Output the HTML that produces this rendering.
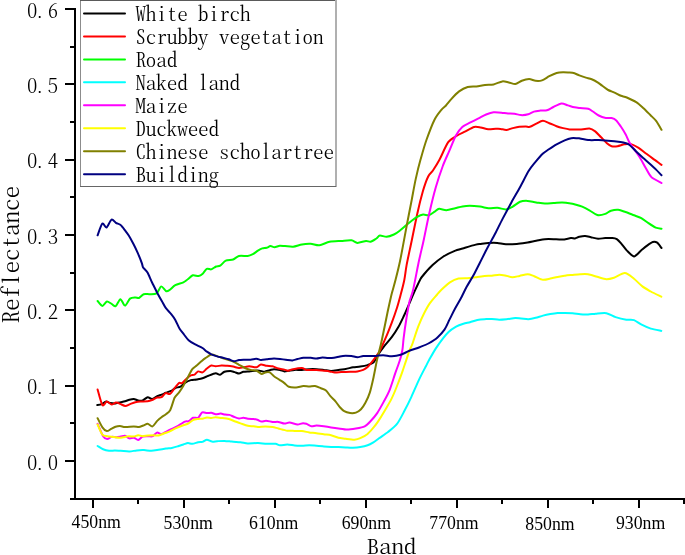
<!DOCTYPE html>
<html><head><meta charset="utf-8"><title>Reflectance spectra</title>
<style>html,body{margin:0;padding:0;background:#fff;}body{width:685px;height:555px;overflow:hidden;}svg{display:block;}</style>
</head><body>
<svg width="685" height="555" viewBox="0 0 685 555">
<rect width="685" height="555" fill="#fff"/>
<g shape-rendering="crispEdges">
<rect x="80" y="0" width="1" height="187" fill="#8c8c8c"/>
<rect x="80" y="0" width="256" height="1" fill="#5a5a5a"/>
<rect x="335" y="0" width="2" height="187" fill="#b0b0b0"/>
<rect x="80" y="186" width="256" height="1" fill="#666666"/>
</g>
<line x1="84" y1="13.50" x2="125" y2="13.50" stroke="#000000" stroke-width="2" stroke-linecap="round"/>
<line x1="84" y1="36.45" x2="125" y2="36.45" stroke="#ff0000" stroke-width="2" stroke-linecap="round"/>
<line x1="84" y1="59.40" x2="125" y2="59.40" stroke="#00ff00" stroke-width="2" stroke-linecap="round"/>
<line x1="84" y1="82.35" x2="125" y2="82.35" stroke="#00ffff" stroke-width="2" stroke-linecap="round"/>
<line x1="84" y1="105.30" x2="125" y2="105.30" stroke="#ff00ff" stroke-width="2" stroke-linecap="round"/>
<line x1="84" y1="128.25" x2="125" y2="128.25" stroke="#ffff00" stroke-width="2" stroke-linecap="round"/>
<line x1="84" y1="151.20" x2="125" y2="151.20" stroke="#808000" stroke-width="2" stroke-linecap="round"/>
<line x1="84" y1="174.15" x2="125" y2="174.15" stroke="#000080" stroke-width="2" stroke-linecap="round"/>
<g font-family="'Liberation Serif', 'Noto Serif CJK SC', serif" font-size="21.2" fill="#000"><text transform="translate(135.40,20.90) scale(1,0.92)" x="0" y="0" font-family="'Noto Serif CJK SC', 'Liberation Serif', serif" font-size="20.90" font-weight="300" style="font-feature-settings:'hwid' 1, 'liga' 0;font-variant-ligatures:none" textLength="114.95" lengthAdjust="spacing">White birch</text>
<text transform="translate(135.40,43.85) scale(1,0.92)" x="0" y="0" font-family="'Noto Serif CJK SC', 'Liberation Serif', serif" font-size="20.90" font-weight="300" style="font-feature-settings:'hwid' 1, 'liga' 0;font-variant-ligatures:none" textLength="188.10" lengthAdjust="spacing">Scrubby vegetation</text>
<text transform="translate(135.40,66.80) scale(1,0.92)" x="0" y="0" font-family="'Noto Serif CJK SC', 'Liberation Serif', serif" font-size="20.90" font-weight="300" style="font-feature-settings:'hwid' 1, 'liga' 0;font-variant-ligatures:none" textLength="41.80" lengthAdjust="spacing">Road</text>
<text transform="translate(135.40,89.75) scale(1,0.92)" x="0" y="0" font-family="'Noto Serif CJK SC', 'Liberation Serif', serif" font-size="20.90" font-weight="300" style="font-feature-settings:'hwid' 1, 'liga' 0;font-variant-ligatures:none" textLength="104.50" lengthAdjust="spacing">Naked land</text>
<text transform="translate(135.40,112.70) scale(1,0.92)" x="0" y="0" font-family="'Noto Serif CJK SC', 'Liberation Serif', serif" font-size="20.90" font-weight="300" style="font-feature-settings:'hwid' 1, 'liga' 0;font-variant-ligatures:none" textLength="52.25" lengthAdjust="spacing">Maize</text>
<text transform="translate(135.40,135.65) scale(1,0.92)" x="0" y="0" font-family="'Noto Serif CJK SC', 'Liberation Serif', serif" font-size="20.90" font-weight="300" style="font-feature-settings:'hwid' 1, 'liga' 0;font-variant-ligatures:none" textLength="83.60" lengthAdjust="spacing">Duckweed</text>
<text transform="translate(135.40,158.60) scale(1,0.92)" x="0" y="0" font-family="'Noto Serif CJK SC', 'Liberation Serif', serif" font-size="20.90" font-weight="300" style="font-feature-settings:'hwid' 1, 'liga' 0;font-variant-ligatures:none" textLength="198.55" lengthAdjust="spacing">Chinese scholartree</text>
<text transform="translate(135.40,181.55) scale(1,0.92)" x="0" y="0" font-family="'Noto Serif CJK SC', 'Liberation Serif', serif" font-size="20.90" font-weight="300" style="font-feature-settings:'hwid' 1, 'liga' 0;font-variant-ligatures:none" textLength="83.60" lengthAdjust="spacing">Building</text></g>
<g fill="#000" shape-rendering="crispEdges">
<rect x="74" y="8" width="2" height="492"/>
<rect x="70" y="498" width="615" height="2"/>
<rect x="70" y="497.67" width="5" height="2"/>
<rect x="65" y="460.00" width="10" height="2"/>
<rect x="70" y="422.33" width="5" height="2"/>
<rect x="65" y="384.67" width="10" height="2"/>
<rect x="70" y="347.00" width="5" height="2"/>
<rect x="65" y="309.34" width="10" height="2"/>
<rect x="70" y="271.68" width="5" height="2"/>
<rect x="65" y="234.01" width="10" height="2"/>
<rect x="70" y="196.34" width="5" height="2"/>
<rect x="65" y="158.68" width="10" height="2"/>
<rect x="70" y="121.01" width="5" height="2"/>
<rect x="65" y="83.35" width="10" height="2"/>
<rect x="70" y="45.69" width="5" height="2"/>
<rect x="65" y="8.02" width="10" height="2"/>
<rect x="92.00" y="499" width="2" height="9"/>
<rect x="137.48" y="499" width="2" height="5"/>
<rect x="182.95" y="499" width="2" height="9"/>
<rect x="228.43" y="499" width="2" height="5"/>
<rect x="273.90" y="499" width="2" height="9"/>
<rect x="319.38" y="499" width="2" height="5"/>
<rect x="364.86" y="499" width="2" height="9"/>
<rect x="410.33" y="499" width="2" height="5"/>
<rect x="455.81" y="499" width="2" height="9"/>
<rect x="501.28" y="499" width="2" height="5"/>
<rect x="546.76" y="499" width="2" height="9"/>
<rect x="592.24" y="499" width="2" height="5"/>
<rect x="637.71" y="499" width="2" height="9"/>
<rect x="683.19" y="499" width="2" height="5"/>
</g>
<g font-family="'Liberation Serif', 'Noto Serif CJK SC', serif" font-size="22.6" fill="#000"><text transform="translate(27.00,469.50) scale(1,0.95)" x="0" y="0" dx="0 -3 3" font-family="'Noto Serif CJK SC', 'Liberation Serif', serif" font-size="20.80" font-weight="300" style="font-feature-settings:'hwid' 1, 'liga' 0;font-variant-ligatures:none" textLength="31.20" lengthAdjust="spacing">0.0</text>
<text transform="translate(27.00,394.17) scale(1,0.95)" x="0" y="0" dx="0 -3 3" font-family="'Noto Serif CJK SC', 'Liberation Serif', serif" font-size="20.80" font-weight="300" style="font-feature-settings:'hwid' 1, 'liga' 0;font-variant-ligatures:none" textLength="31.20" lengthAdjust="spacing">0.1</text>
<text transform="translate(27.00,318.84) scale(1,0.95)" x="0" y="0" dx="0 -3 3" font-family="'Noto Serif CJK SC', 'Liberation Serif', serif" font-size="20.80" font-weight="300" style="font-feature-settings:'hwid' 1, 'liga' 0;font-variant-ligatures:none" textLength="31.20" lengthAdjust="spacing">0.2</text>
<text transform="translate(27.00,243.51) scale(1,0.95)" x="0" y="0" dx="0 -3 3" font-family="'Noto Serif CJK SC', 'Liberation Serif', serif" font-size="20.80" font-weight="300" style="font-feature-settings:'hwid' 1, 'liga' 0;font-variant-ligatures:none" textLength="31.20" lengthAdjust="spacing">0.3</text>
<text transform="translate(27.00,168.18) scale(1,0.95)" x="0" y="0" dx="0 -3 3" font-family="'Noto Serif CJK SC', 'Liberation Serif', serif" font-size="20.80" font-weight="300" style="font-feature-settings:'hwid' 1, 'liga' 0;font-variant-ligatures:none" textLength="31.20" lengthAdjust="spacing">0.4</text>
<text transform="translate(27.00,92.85) scale(1,0.95)" x="0" y="0" dx="0 -3 3" font-family="'Noto Serif CJK SC', 'Liberation Serif', serif" font-size="20.80" font-weight="300" style="font-feature-settings:'hwid' 1, 'liga' 0;font-variant-ligatures:none" textLength="31.20" lengthAdjust="spacing">0.5</text>
<text transform="translate(27.00,17.52) scale(1,0.95)" x="0" y="0" dx="0 -3 3" font-family="'Noto Serif CJK SC', 'Liberation Serif', serif" font-size="20.80" font-weight="300" style="font-feature-settings:'hwid' 1, 'liga' 0;font-variant-ligatures:none" textLength="31.20" lengthAdjust="spacing">0.6</text></g>
<g font-family="'Liberation Serif', 'Noto Serif CJK SC', serif" font-size="18.6" fill="#000"><text transform="translate(96.2,528.2) scale(0.955,1)" text-anchor="middle">450nm</text>
<text transform="translate(188.2,528.5) scale(0.955,1)" text-anchor="middle">530nm</text>
<text transform="translate(273.7,528.9) scale(0.955,1)" text-anchor="middle">610nm</text>
<text transform="translate(366.3,528.7) scale(0.955,1)" text-anchor="middle">690nm</text>
<text transform="translate(454.0,529.2) scale(0.955,1)" text-anchor="middle">770nm</text>
<text transform="translate(550.0,529.5) scale(0.955,1)" text-anchor="middle">850nm</text>
<text transform="translate(640.6,528.9) scale(0.955,1)" text-anchor="middle">930nm</text></g>
<g font-family="'Liberation Serif', 'Noto Serif CJK SC', serif" font-size="25" fill="#000"><text transform="translate(366.60,553.80) scale(1,0.82)" x="0" y="0" font-family="'Noto Serif CJK SC', 'Liberation Serif', serif" font-size="24.80" font-weight="300" style="font-feature-settings:'hwid' 1, 'liga' 0;font-variant-ligatures:none" textLength="49.60" lengthAdjust="spacing">Band</text></g>
<g font-family="'Liberation Serif', 'Noto Serif CJK SC', serif" font-size="25" fill="#000" transform="translate(18.8,323.4) rotate(-90)"><text transform="translate(0.00,0.00) scale(1,0.87)" x="0" y="0" font-family="'Noto Serif CJK SC', 'Liberation Serif', serif" font-size="25.00" font-weight="300" style="font-feature-settings:'hwid' 1, 'liga' 0;font-variant-ligatures:none" textLength="137.50" lengthAdjust="spacing">Reflectance</text></g>
<path d="M97.3,405.1C97.9,405.0 100.5,404.6 101.7,404.1C102.9,403.6 104.9,401.7 106.1,401.6C107.3,401.5 109.1,402.9 110.4,403.1C111.7,403.3 114.1,403.5 115.5,403.4C116.9,403.3 119.4,402.5 120.7,402.2C122.0,401.9 123.8,401.5 125.0,401.2C126.2,400.9 128.2,400.0 129.4,399.7C130.6,399.4 132.6,398.9 133.8,399.0C135.0,399.1 137.0,400.2 138.2,400.4C139.4,400.6 141.3,400.8 142.6,400.4C143.9,400.0 146.4,397.4 147.7,397.2C149.0,397.0 150.7,399.1 152.0,399.0C153.3,398.9 155.9,396.7 157.2,396.1C158.5,395.5 160.3,395.0 161.5,394.6C162.7,394.2 164.6,393.3 165.9,392.8C167.2,392.3 169.7,391.5 171.0,390.9C172.3,390.3 174.1,388.6 175.4,388.0C176.7,387.4 179.2,387.3 180.5,386.6C181.8,385.9 183.5,383.8 184.9,382.9C186.3,382.0 189.2,380.6 190.8,380.1C192.4,379.6 195.1,379.7 196.7,379.4C198.3,379.1 200.9,378.7 202.5,378.2C204.1,377.7 206.6,376.5 208.4,375.8C210.2,375.1 214.2,373.4 215.7,373.3C217.2,373.2 218.8,374.9 220.0,374.7C221.2,374.5 223.0,372.3 224.4,371.8C225.8,371.3 228.9,371.1 230.3,371.1C231.7,371.1 233.4,371.8 234.6,372.1C235.8,372.4 237.8,373.6 239.0,373.6C240.2,373.6 242.0,372.1 243.4,371.8C244.8,371.5 247.6,371.5 249.2,371.4C250.8,371.3 253.7,370.8 255.1,370.7C256.5,370.6 258.2,370.6 259.5,370.7C260.8,370.8 263.2,371.8 264.6,371.7C266.0,371.6 268.4,370.5 269.7,370.2C271.0,369.9 272.6,369.2 274.0,369.2C275.4,369.2 278.5,369.6 279.9,369.9C281.3,370.2 283.2,371.3 284.4,371.4C285.6,371.5 287.4,370.9 288.8,370.7C290.2,370.5 292.9,370.0 294.6,369.9C296.3,369.8 300.0,370.0 301.9,369.9C303.8,369.8 307.3,369.3 309.2,369.2C311.1,369.1 314.6,369.1 316.5,369.2C318.4,369.3 321.9,369.7 323.8,369.9C325.7,370.1 329.2,370.9 331.1,370.9C333.0,370.9 336.5,370.2 338.4,369.9C340.3,369.6 343.8,369.2 345.7,368.9C347.6,368.6 351.1,367.6 353.0,367.3C354.9,367.0 358.4,366.9 360.3,366.6C362.2,366.3 365.9,365.6 367.6,365.1C369.3,364.6 372.1,363.8 373.4,362.6C374.7,361.4 375.8,358.2 377.3,355.9C378.8,353.6 382.7,348.2 384.6,345.7C386.5,343.2 390.0,339.4 391.9,336.9C393.8,334.4 396.8,329.6 398.5,326.7C400.2,323.8 402.8,318.1 404.3,315.0C405.8,311.9 408.1,306.3 409.4,303.4C410.7,300.5 412.4,296.1 413.8,293.1C415.2,290.1 418.5,282.8 419.6,280.7C420.7,278.6 420.1,279.1 421.8,277.0C423.5,274.9 429.7,267.8 432.6,265.1C435.5,262.4 440.5,258.4 443.4,256.5C446.3,254.6 451.3,252.3 454.2,251.1C457.1,249.9 462.1,248.7 465.0,247.8C467.9,246.9 473.8,245.1 475.8,244.6C477.8,244.1 478.3,244.1 480.0,243.9C481.7,243.7 486.3,243.0 488.6,242.9C490.9,242.8 495.0,242.7 497.3,242.9C499.6,243.1 503.3,244.1 505.9,244.2C508.5,244.3 513.9,244.1 516.8,243.9C519.7,243.7 525.0,242.8 527.6,242.4C530.2,242.0 533.9,241.1 536.2,240.7C538.5,240.3 542.6,239.4 544.9,239.2C547.2,239.0 551.2,239.1 553.5,239.2C555.8,239.3 559.9,239.7 562.2,239.6C564.5,239.5 569.1,238.3 570.8,238.1C572.5,237.9 573.9,238.6 575.0,238.4C576.1,238.2 578.0,237.0 579.3,236.7C580.6,236.4 583.6,235.8 585.1,235.9C586.6,236.0 589.2,236.8 590.9,237.2C592.6,237.6 596.2,238.7 598.1,238.8C600.0,238.9 603.4,238.1 605.3,238.0C607.2,237.9 611.0,237.9 612.5,238.0C614.0,238.1 615.7,238.4 616.8,239.1C617.9,239.8 619.8,241.9 621.1,243.4C622.4,244.9 625.2,248.9 626.9,250.6C628.6,252.3 632.2,256.4 634.1,256.4C636.0,256.4 639.6,251.7 641.3,250.3C643.0,248.9 645.6,246.7 647.1,245.6C648.6,244.5 651.5,242.4 652.8,242.0C654.1,241.6 656.0,241.9 657.2,242.7C658.4,243.5 660.9,247.3 661.5,248.0" fill="none" stroke="#000000" stroke-width="2" stroke-linejoin="round" stroke-linecap="round"/>
<path d="M97.6,389.5C98.2,391.6 101.2,403.5 102.4,405.1C103.6,406.7 105.6,401.7 106.8,401.6C108.0,401.5 110.4,404.4 111.6,404.5C112.8,404.6 114.8,402.7 116.0,402.6C117.2,402.5 119.5,403.6 120.7,404.1C121.9,404.6 124.0,406.0 125.3,406.0C126.6,406.0 128.8,404.6 130.1,404.1C131.4,403.6 133.9,402.5 135.3,402.2C136.7,401.9 138.7,401.6 140.4,401.5C142.1,401.4 146.0,401.4 147.7,401.2C149.4,401.0 151.5,400.2 152.8,399.7C154.1,399.2 156.0,397.8 157.2,397.5C158.4,397.2 160.4,397.8 161.5,397.2C162.6,396.6 164.5,393.5 165.6,393.1C166.7,392.7 168.8,394.6 170.0,393.9C171.2,393.2 173.5,389.5 174.7,388.0C175.9,386.5 178.3,383.5 179.3,382.9C180.3,382.3 181.0,383.8 182.0,383.2C183.0,382.6 185.3,379.8 186.5,378.7C187.7,377.6 189.7,375.8 190.8,375.3C191.9,374.8 193.5,375.2 194.5,374.7C195.5,374.2 197.0,371.7 198.1,371.4C199.2,371.1 201.3,372.8 202.5,372.4C203.7,372.0 205.7,369.4 206.9,368.5C208.1,367.6 210.1,365.8 211.3,365.5C212.5,365.2 214.3,366.3 215.7,366.3C217.1,366.3 220.0,365.6 221.5,365.5C223.0,365.4 225.7,365.7 227.3,365.8C228.9,365.9 231.6,366.3 233.2,366.6C234.8,366.9 237.4,367.9 239.0,368.0C240.6,368.1 243.5,367.2 244.9,367.0C246.3,366.8 247.7,366.3 249.2,366.3C250.7,366.3 254.9,367.5 256.5,367.3C258.1,367.1 259.5,364.7 260.9,364.5C262.3,364.3 265.2,365.6 266.8,365.8C268.4,366.0 271.1,365.9 272.6,366.3C274.1,366.7 276.8,368.1 278.4,368.5C280.0,368.9 283.1,369.3 284.4,369.6C285.7,369.9 286.8,370.8 288.0,370.7C289.2,370.6 291.2,369.6 293.1,369.2C295.0,368.8 300.1,367.9 301.9,368.0C303.7,368.1 304.4,369.6 306.3,369.9C308.2,370.2 314.2,369.8 316.5,369.9C318.8,370.0 322.1,370.5 323.8,370.7C325.5,370.9 328.1,371.2 329.6,371.4C331.1,371.6 333.1,372.3 334.7,372.4C336.3,372.5 339.2,372.2 341.3,372.1C343.4,372.0 348.0,371.9 350.1,371.8C352.2,371.7 355.7,371.7 357.4,371.4C359.1,371.1 361.8,370.5 363.2,369.9C364.6,369.3 366.4,368.1 367.6,367.0C368.8,365.9 370.8,363.4 372.0,361.9C373.2,360.4 375.3,357.7 376.4,356.1C377.5,354.5 378.9,352.7 380.2,350.1C381.5,347.5 384.5,340.6 386.1,336.9C387.7,333.2 390.4,326.2 391.9,322.3C393.4,318.4 395.8,311.4 397.0,307.7C398.2,304.0 399.7,298.3 400.7,294.6C401.7,290.9 403.5,283.9 404.3,280.0C405.1,276.1 405.6,270.5 406.6,265.1C407.6,259.7 410.6,246.1 412.0,239.2C413.4,232.3 416.0,219.5 417.4,213.2C418.8,206.9 421.4,196.5 422.8,191.6C424.2,186.7 426.8,179.3 428.2,176.5C429.6,173.7 431.6,172.6 433.1,170.3C434.6,168.0 437.6,163.2 439.6,159.5C441.6,155.8 445.9,145.4 448.2,142.2C450.5,139.0 454.6,137.1 456.9,135.7C459.2,134.3 463.2,132.6 465.5,131.4C467.8,130.2 472.2,127.5 474.2,127.0C476.2,126.5 478.8,127.2 480.7,127.5C482.6,127.8 486.2,129.0 488.2,129.2C490.2,129.4 494.1,128.8 495.8,128.8C497.5,128.8 499.3,128.7 500.7,128.9C502.1,129.1 504.8,130.1 506.4,130.0C508.0,129.9 511.1,128.5 512.8,128.1C514.5,127.7 517.6,127.0 519.3,126.8C521.0,126.6 524.4,126.5 525.8,126.5C527.2,126.5 528.5,127.2 529.9,126.8C531.3,126.4 534.6,124.4 536.3,123.6C538.0,122.8 541.1,120.9 542.8,120.8C544.5,120.7 547.5,122.5 549.3,123.2C551.1,123.9 554.8,125.5 556.6,126.2C558.4,126.9 561.4,127.7 563.1,128.1C564.8,128.5 567.9,129.2 569.6,129.4C571.3,129.6 574.7,129.4 576.1,129.4C577.5,129.4 578.2,129.7 580.0,129.6C581.8,129.5 587.4,128.4 589.4,128.6C591.4,128.8 593.6,130.2 595.2,131.4C596.8,132.6 599.5,135.7 601.1,137.3C602.7,138.9 605.5,142.0 606.9,143.2C608.3,144.4 610.2,145.8 611.6,146.2C613.0,146.6 615.8,146.5 617.5,146.2C619.2,145.9 622.8,144.6 624.5,144.3C626.2,144.0 628.5,143.4 630.4,143.9C632.3,144.4 636.6,146.6 638.6,147.8C640.6,149.0 643.7,151.8 645.6,153.2C647.5,154.6 650.5,156.8 652.6,158.4C654.7,160.0 660.3,164.0 661.5,164.9" fill="none" stroke="#ff0000" stroke-width="2" stroke-linejoin="round" stroke-linecap="round"/>
<path d="M97.6,301.0C98.2,301.7 101.1,305.8 102.3,305.9C103.5,306.0 105.7,301.8 106.9,301.5C108.1,301.2 110.4,303.3 111.6,303.9C112.8,304.5 114.5,306.8 115.7,306.2C116.9,305.6 119.2,299.3 120.4,299.2C121.6,299.1 123.7,305.7 125.0,305.6C126.3,305.5 128.6,299.7 130.0,298.6C131.4,297.5 134.1,297.5 135.3,297.4C136.5,297.3 137.9,298.4 139.0,298.0C140.1,297.6 142.3,294.7 143.7,294.2C145.1,293.7 147.9,294.3 149.6,294.2C151.3,294.1 155.1,294.4 156.6,293.4C158.1,292.4 160.0,286.7 161.2,286.4C162.4,286.1 164.8,290.5 165.9,291.0C167.0,291.5 168.1,290.9 169.4,290.1C170.7,289.3 173.4,286.2 175.3,285.2C177.2,284.2 181.7,283.1 183.4,282.3C185.1,281.5 186.5,280.2 187.8,279.3C189.1,278.4 191.4,275.7 192.8,275.3C194.2,274.9 197.3,276.3 198.6,276.1C199.9,275.9 201.3,275.1 202.4,274.1C203.5,273.1 205.6,269.4 206.8,268.8C208.0,268.2 210.0,269.7 211.2,269.4C212.4,269.1 214.9,267.0 216.1,266.5C217.3,266.0 218.9,266.4 220.2,265.6C221.5,264.8 224.1,261.5 225.8,260.7C227.5,259.9 231.4,260.1 233.1,259.5C234.8,258.9 237.0,256.5 238.9,256.0C240.8,255.5 245.8,256.2 247.7,256.0C249.6,255.8 251.5,254.9 252.9,254.2C254.3,253.5 256.6,251.5 257.9,250.7C259.2,249.9 261.1,248.8 262.3,248.4C263.5,248.0 265.5,248.1 266.6,247.8C267.7,247.5 269.3,246.2 270.4,246.1C271.5,246.0 273.2,247.2 274.5,247.2C275.8,247.2 278.4,245.9 279.8,245.8C281.2,245.7 283.2,246.0 285.0,246.1C286.8,246.2 290.8,246.9 293.1,246.7C295.4,246.5 299.6,244.8 301.9,244.4C304.2,244.0 308.4,243.7 310.7,243.8C313.0,243.9 316.9,245.6 319.4,245.3C321.9,245.0 326.7,242.4 329.6,241.8C332.5,241.2 338.4,241.1 341.3,240.9C344.2,240.7 349.4,240.0 351.5,240.3C353.6,240.6 355.5,242.8 357.4,242.9C359.3,243.0 364.4,241.0 366.1,240.9C367.8,240.8 369.1,242.1 370.5,241.8C371.9,241.5 375.1,239.3 376.4,238.5C377.7,237.7 378.5,235.8 379.9,235.6C381.3,235.4 384.7,236.9 386.6,236.8C388.5,236.7 392.2,235.3 393.9,234.5C395.6,233.7 398.2,231.9 399.7,230.7C401.2,229.5 403.9,227.0 405.5,225.7C407.1,224.4 409.8,222.2 411.4,221.0C413.0,219.8 415.6,217.8 417.2,216.9C418.8,216.0 421.5,214.8 423.1,214.6C424.7,214.4 427.4,215.6 428.9,215.2C430.4,214.8 433.3,212.6 434.7,211.7C436.1,210.8 437.5,209.0 439.1,208.8C440.7,208.6 444.3,210.3 446.4,210.2C448.5,210.1 453.1,208.7 455.2,208.2C457.3,207.7 460.6,206.7 462.5,206.4C464.4,206.1 467.5,205.8 469.8,205.8C472.1,205.8 477.5,206.3 480.0,206.6C482.5,206.9 486.3,208.1 488.6,208.3C490.9,208.5 495.0,207.7 497.3,207.8C499.6,207.9 503.9,209.5 505.9,209.4C507.9,209.3 510.5,207.8 512.4,206.8C514.3,205.8 518.0,202.6 520.0,201.8C522.0,201.0 525.4,200.8 527.6,200.9C529.8,201.0 533.9,202.1 536.2,202.4C538.5,202.7 542.6,203.4 544.9,203.5C547.2,203.6 551.2,203.2 553.5,203.1C555.8,203.0 559.9,202.3 562.2,202.4C564.5,202.5 569.1,203.2 570.8,203.5C572.5,203.8 573.5,204.1 575.0,204.5C576.5,204.9 580.3,205.9 582.2,206.7C584.1,207.5 587.4,209.2 589.4,210.3C591.4,211.4 595.2,214.5 597.3,215.0C599.4,215.5 603.5,214.5 605.3,213.9C607.1,213.3 609.3,211.2 611.0,210.7C612.7,210.2 616.3,209.6 618.2,209.8C620.1,210.0 623.4,211.3 625.5,212.0C627.6,212.7 632.0,214.5 634.1,215.3C636.2,216.1 639.4,217.1 641.3,218.2C643.2,219.3 646.6,221.9 648.5,223.2C650.4,224.5 654.0,226.9 655.7,227.6C657.4,228.3 660.7,228.6 661.5,228.7" fill="none" stroke="#00ff00" stroke-width="2" stroke-linejoin="round" stroke-linecap="round"/>
<path d="M97.6,446.0C98.3,446.4 101.6,448.7 103.1,449.3C104.6,449.9 107.4,450.6 109.0,450.8C110.6,451.0 113.2,450.5 114.8,450.5C116.4,450.5 118.8,450.7 120.7,450.8C122.6,450.9 127.3,451.6 129.4,451.5C131.5,451.4 134.8,450.6 136.7,450.4C138.6,450.2 142.1,450.0 144.0,450.1C145.9,450.2 149.4,450.8 151.3,450.8C153.2,450.8 156.7,450.1 158.6,449.8C160.5,449.5 164.1,448.9 165.9,448.6C167.7,448.3 170.2,448.2 171.8,447.9C173.4,447.6 176.1,446.9 177.6,446.4C179.1,445.9 182.0,444.9 183.4,444.5C184.8,444.1 186.7,443.2 187.9,443.1C189.1,443.0 190.9,443.9 192.3,443.8C193.7,443.7 196.7,442.6 198.1,442.3C199.5,442.0 201.3,442.2 202.5,441.9C203.7,441.6 205.6,439.7 206.9,439.7C208.2,439.7 210.6,441.4 212.0,441.6C213.4,441.8 215.4,441.3 217.1,441.2C218.8,441.1 222.5,440.8 224.4,440.9C226.3,441.0 229.6,441.4 231.7,441.6C233.8,441.8 238.4,442.1 240.5,442.3C242.6,442.5 245.5,443.3 247.8,443.4C250.1,443.5 255.5,443.0 258.0,443.1C260.5,443.2 264.5,443.7 266.8,443.8C269.1,443.9 273.7,443.6 275.5,443.8C277.3,444.0 278.4,445.2 280.0,445.3C281.6,445.4 285.4,444.5 287.3,444.5C289.2,444.5 292.7,445.3 294.6,445.5C296.5,445.7 300.0,445.7 301.9,445.7C303.8,445.7 307.3,445.3 309.2,445.3C311.1,445.3 314.6,445.6 316.5,445.7C318.4,445.8 321.9,446.2 323.8,446.4C325.7,446.6 329.2,446.9 331.1,447.0C333.0,447.1 336.5,446.9 338.4,447.0C340.3,447.1 343.8,447.3 345.7,447.4C347.6,447.5 351.1,447.8 353.0,447.7C354.9,447.6 358.4,447.3 360.3,447.0C362.2,446.7 365.9,445.9 367.6,445.3C369.3,444.7 371.9,443.2 373.4,442.3C374.9,441.4 377.1,439.7 379.0,438.3C380.9,436.9 385.6,433.9 388.0,432.0C390.4,430.1 394.8,426.7 397.0,423.9C399.2,421.1 402.3,414.9 404.2,411.3C406.1,407.7 409.5,400.9 411.4,396.8C413.3,392.7 416.7,384.7 418.6,380.6C420.5,376.5 424.5,368.9 425.9,366.2C427.3,363.5 427.8,362.3 429.1,360.0C430.4,357.7 433.8,351.5 435.7,348.6C437.6,345.7 441.3,340.6 443.0,338.4C444.7,336.2 447.1,333.4 448.8,331.8C450.5,330.2 454.2,327.8 456.1,326.7C458.0,325.6 461.5,324.4 463.4,323.8C465.3,323.2 468.1,322.7 470.0,322.2C471.9,321.7 475.4,320.4 477.3,320.0C479.2,319.6 482.7,319.3 484.6,319.2C486.5,319.1 490.0,318.8 491.9,318.9C493.8,319.0 497.3,319.7 499.2,319.7C501.1,319.7 504.4,319.4 506.5,319.2C508.6,319.0 513.4,318.2 515.3,318.1C517.2,318.0 519.4,318.4 521.1,318.5C522.8,318.6 526.5,319.3 528.4,319.2C530.3,319.1 533.8,318.3 535.7,317.8C537.6,317.3 541.1,316.1 543.0,315.6C544.9,315.1 548.4,314.4 550.3,314.1C552.2,313.8 555.6,313.3 557.6,313.1C559.6,312.9 563.0,312.9 565.0,312.9C567.0,312.9 570.7,313.0 572.7,313.2C574.7,313.4 578.3,314.1 580.3,314.3C582.3,314.5 585.9,314.6 588.0,314.5C590.1,314.4 593.2,313.9 595.7,313.7C598.2,313.5 603.7,312.7 606.4,313.2C609.1,313.7 612.9,316.2 615.6,317.1C618.3,318.0 623.8,319.3 626.3,319.7C628.8,320.1 632.0,319.4 634.0,320.1C636.0,320.8 639.4,323.6 641.6,324.7C643.8,325.8 648.2,327.8 650.8,328.6C653.4,329.4 659.9,330.6 661.3,330.9" fill="none" stroke="#00ffff" stroke-width="2" stroke-linejoin="round" stroke-linecap="round"/>
<path d="M97.6,423.8C98.3,425.5 101.8,434.2 103.1,436.2C104.4,438.2 106.1,439.0 107.2,439.1C108.3,439.2 110.4,437.2 111.6,436.9C112.8,436.6 115.1,437.2 116.3,437.2C117.5,437.2 119.5,436.8 120.7,436.6C121.9,436.4 123.8,435.6 125.0,435.8C126.2,436.0 128.2,438.1 129.4,438.4C130.6,438.7 132.6,437.5 133.8,437.7C135.0,437.9 137.0,440.0 138.2,439.9C139.4,439.8 141.3,437.1 142.6,436.6C143.9,436.1 146.3,436.3 147.7,436.2C149.1,436.1 151.6,436.7 152.8,436.2C154.0,435.7 155.7,432.9 156.9,432.6C158.1,432.3 160.3,434.1 161.5,434.0C162.7,433.9 164.5,432.5 165.9,431.8C167.3,431.1 170.2,429.7 171.8,428.9C173.4,428.1 175.9,427.0 177.6,426.0C179.3,425.0 183.4,422.2 184.9,421.6C186.4,421.0 187.5,421.7 188.6,421.2C189.7,420.7 191.7,418.3 193.0,417.8C194.3,417.3 196.9,418.5 198.1,417.8C199.3,417.1 201.0,413.0 202.2,412.4C203.4,411.8 205.7,413.0 206.9,413.1C208.1,413.2 210.1,412.7 211.3,412.8C212.5,412.9 214.4,414.1 215.7,414.2C217.0,414.3 219.5,413.5 220.8,413.6C222.1,413.7 223.9,414.4 225.1,414.6C226.3,414.8 228.3,414.6 229.5,414.9C230.7,415.2 232.6,416.3 233.9,416.8C235.2,417.3 237.7,418.4 239.0,418.5C240.3,418.6 242.2,417.8 243.4,417.8C244.6,417.8 246.4,418.5 247.8,418.7C249.2,418.9 252.3,418.9 253.6,419.0C254.9,419.1 256.2,419.4 257.3,419.7C258.4,420.0 260.4,421.5 261.6,421.6C262.8,421.7 264.5,420.7 266.0,420.7C267.5,420.7 270.9,421.7 272.6,421.9C274.3,422.1 276.8,421.7 278.4,421.9C280.0,422.1 282.9,423.5 284.4,423.6C285.9,423.7 287.8,422.5 289.5,422.6C291.2,422.7 295.8,424.3 297.5,424.4C299.2,424.5 300.7,423.5 301.9,423.4C303.1,423.3 305.0,423.4 306.3,423.8C307.6,424.2 310.0,426.1 311.4,426.3C312.8,426.5 314.8,425.5 316.5,425.5C318.2,425.5 321.9,426.0 323.8,426.3C325.7,426.6 329.2,427.1 331.1,427.4C333.0,427.7 336.3,428.2 338.4,428.5C340.5,428.8 344.9,429.6 347.2,429.6C349.5,429.6 353.6,428.9 355.9,428.5C358.2,428.1 362.8,427.3 364.7,426.3C366.6,425.3 368.8,423.0 370.5,421.2C372.2,419.4 375.3,415.9 377.2,413.1C379.1,410.3 382.7,403.6 384.4,400.5C386.1,397.4 388.4,393.2 389.8,389.6C391.2,386.0 393.9,377.2 395.2,373.4C396.5,369.6 398.7,363.9 399.7,360.8C400.7,357.7 401.9,353.0 402.4,350.0C402.9,347.0 403.1,342.7 403.6,338.4C404.1,334.1 405.7,322.9 406.5,318.0C407.3,313.1 408.5,305.6 409.4,301.9C410.3,298.2 411.9,295.2 413.1,290.0C414.3,284.8 417.1,269.8 418.5,263.0C419.9,256.2 422.5,245.8 423.9,239.2C425.3,232.6 427.7,220.1 429.3,213.2C430.9,206.3 434.0,193.6 435.8,187.3C437.6,181.0 441.0,170.9 442.8,166.0C444.6,161.1 447.6,154.8 449.3,150.8C451.0,146.8 454.1,138.9 455.8,135.7C457.5,132.5 460.4,128.7 462.3,127.0C464.2,125.3 467.7,123.8 469.9,122.7C472.1,121.6 476.3,119.5 478.5,118.4C480.7,117.3 484.1,115.3 486.1,114.5C488.1,113.7 491.5,112.5 493.6,112.3C495.7,112.1 499.6,112.5 501.5,112.7C503.4,112.9 506.3,113.4 508.0,113.5C509.7,113.6 512.8,113.6 514.5,113.8C516.2,114.0 519.1,115.0 520.9,115.1C522.7,115.2 526.5,114.8 528.2,114.3C529.9,113.8 532.3,112.1 533.9,111.6C535.5,111.1 538.7,110.8 540.4,110.6C542.1,110.4 545.2,110.8 546.9,110.3C548.6,109.8 551.5,107.9 553.4,107.0C555.3,106.1 559.6,103.7 561.5,103.5C563.4,103.3 566.3,104.9 568.0,105.4C569.7,105.9 572.9,107.0 574.5,107.3C576.1,107.6 578.2,107.8 580.0,108.0C581.8,108.2 586.5,108.2 588.2,108.7C589.9,109.2 591.5,110.6 592.9,111.5C594.3,112.4 597.0,114.6 598.7,115.5C600.4,116.4 604.1,117.6 605.8,117.9C607.5,118.2 610.2,117.8 611.6,118.1C613.0,118.4 615.0,119.2 616.3,120.4C617.6,121.6 619.7,124.9 621.0,126.8C622.3,128.7 624.6,132.5 625.7,134.5C626.8,136.5 628.1,140.1 629.2,142.0C630.3,143.9 632.5,147.0 633.9,149.0C635.3,151.0 638.1,154.7 639.7,157.2C641.3,159.7 644.0,165.1 645.6,167.8C647.2,170.5 649.3,175.1 651.4,177.1C653.5,179.1 660.2,182.2 661.5,183.0" fill="none" stroke="#ff00ff" stroke-width="2" stroke-linejoin="round" stroke-linecap="round"/>
<path d="M97.6,424.5C98.2,425.9 101.1,433.1 102.4,434.7C103.7,436.3 106.0,435.9 107.5,436.2C109.0,436.5 111.8,436.7 113.4,436.9C115.0,437.1 117.7,437.7 119.2,437.7C120.7,437.7 123.6,437.1 125.0,436.9C126.4,436.7 128.2,436.2 129.4,436.2C130.6,436.2 132.6,436.7 133.8,436.6C135.0,436.5 137.0,435.3 138.2,435.2C139.4,435.1 141.2,436.2 142.6,436.2C144.0,436.2 146.9,435.6 148.4,435.5C149.9,435.4 152.8,435.2 154.2,435.2C155.6,435.2 157.2,435.8 158.6,435.5C160.0,435.2 162.9,433.9 164.5,433.3C166.1,432.7 168.8,431.8 170.3,431.1C171.8,430.4 174.4,429.0 176.1,428.2C177.8,427.4 181.7,425.9 183.4,425.3C185.1,424.7 187.3,424.1 188.6,423.4C189.9,422.7 191.7,420.7 193.0,420.1C194.3,419.5 196.8,419.2 198.1,419.0C199.4,418.8 201.3,418.9 202.5,418.7C203.7,418.5 205.7,417.6 206.9,417.5C208.1,417.4 210.1,418.0 211.3,418.0C212.5,418.0 214.3,417.2 215.7,417.2C217.1,417.2 219.8,417.8 221.5,418.0C223.2,418.2 227.1,418.6 228.8,419.0C230.5,419.4 233.0,420.6 234.6,421.2C236.2,421.8 238.7,422.8 240.5,423.4C242.3,424.0 246.1,425.4 247.8,425.8C249.5,426.2 252.2,426.1 253.6,426.3C255.0,426.5 256.4,427.0 258.0,427.0C259.6,427.0 263.4,426.6 265.3,426.6C267.2,426.6 270.9,426.7 272.6,427.0C274.3,427.3 276.4,428.0 278.4,428.5C280.4,429.0 285.1,430.4 287.3,430.7C289.5,431.0 292.7,430.8 294.6,430.9C296.5,431.0 300.0,430.9 301.9,431.1C303.8,431.3 307.3,432.1 309.2,432.4C311.1,432.7 314.6,433.0 316.5,433.3C318.4,433.6 321.9,434.0 323.8,434.3C325.7,434.6 329.2,434.8 331.1,435.3C333.0,435.8 336.5,437.2 338.4,437.7C340.3,438.2 343.6,438.4 345.7,438.7C347.8,439.0 352.6,439.8 354.5,439.7C356.4,439.6 358.6,439.0 360.3,438.2C362.0,437.4 365.9,435.3 367.6,433.9C369.3,432.5 372.0,429.3 373.4,427.7C374.8,426.1 376.3,424.1 377.8,421.9C379.3,419.7 382.6,414.4 384.4,411.3C386.2,408.2 389.9,402.0 391.6,398.6C393.3,395.2 395.6,389.6 397.0,386.0C398.4,382.4 401.2,375.0 402.4,371.6C403.6,368.2 405.0,363.7 406.0,360.8C407.0,357.9 408.8,352.2 409.6,350.0C410.4,347.8 411.2,347.3 412.3,344.2C413.4,341.1 416.6,330.8 418.2,326.7C419.8,322.6 422.4,316.6 424.0,313.5C425.6,310.4 428.1,305.7 429.9,303.2C431.7,300.7 435.7,296.3 437.2,294.5C438.7,292.7 439.5,291.6 441.2,290.0C442.9,288.4 447.6,283.9 449.9,282.4C452.2,280.9 455.8,279.1 458.5,278.5C461.2,277.9 467.5,278.3 470.0,278.1C472.5,277.9 475.4,277.2 477.3,276.9C479.2,276.6 482.7,276.1 484.6,275.9C486.5,275.7 490.0,275.9 491.9,275.7C493.8,275.5 497.5,274.7 499.2,274.7C500.9,274.7 503.3,275.1 505.0,275.4C506.7,275.7 510.4,277.1 512.3,277.2C514.2,277.3 517.5,276.3 519.6,275.9C521.7,275.5 525.8,274.3 527.7,274.3C529.6,274.3 532.2,275.5 534.2,276.2C536.2,276.9 540.9,279.5 543.0,279.8C545.1,280.1 548.4,279.0 550.3,278.6C552.2,278.2 555.6,277.3 557.6,276.9C559.6,276.5 563.0,276.0 565.0,275.7C567.0,275.4 570.7,275.1 572.7,274.9C574.7,274.7 578.3,274.3 580.3,274.2C582.3,274.1 585.7,273.9 588.0,274.2C590.3,274.5 594.7,276.1 597.2,276.8C599.7,277.5 604.2,279.1 606.4,279.2C608.6,279.3 611.5,278.5 614.0,277.7C616.5,276.9 622.1,273.0 624.8,273.1C627.5,273.2 631.7,277.0 634.0,278.8C636.3,280.6 640.2,284.7 642.4,286.4C644.6,288.1 648.3,290.1 650.8,291.5C653.3,292.9 659.9,296.0 661.3,296.7" fill="none" stroke="#ffff00" stroke-width="2" stroke-linejoin="round" stroke-linecap="round"/>
<path d="M97.6,418.2C98.2,419.4 101.2,425.7 102.4,427.4C103.6,429.1 105.6,430.9 106.8,431.1C108.0,431.3 110.0,429.5 111.2,428.9C112.4,428.3 114.3,427.1 115.5,426.7C116.7,426.3 118.6,426.0 119.9,426.0C121.2,426.0 123.1,426.9 125.0,427.0C126.9,427.1 131.9,426.4 133.8,426.4C135.7,426.4 137.6,427.1 138.9,427.0C140.2,426.9 142.1,425.9 143.3,425.5C144.5,425.1 146.5,423.7 147.7,423.8C148.9,423.9 151.2,426.8 152.5,426.4C153.8,426.0 156.0,422.1 157.2,420.9C158.4,419.7 160.3,418.1 161.5,417.2C162.7,416.3 164.7,415.3 165.9,414.3C167.1,413.3 169.1,412.1 170.3,409.9C171.5,407.7 173.5,399.8 174.7,397.5C175.9,395.2 177.9,394.0 179.1,392.4C180.3,390.8 182.2,387.8 183.4,385.8C184.6,383.8 186.7,379.4 187.9,377.2C189.1,375.0 191.1,370.8 192.3,369.2C193.5,367.6 195.5,366.5 196.7,365.5C197.9,364.5 199.9,362.6 201.1,361.6C202.3,360.6 204.0,359.1 205.4,358.2C206.8,357.3 209.7,354.9 211.3,354.6C212.9,354.3 215.5,355.6 217.1,356.1C218.7,356.6 221.4,357.7 223.0,358.2C224.6,358.7 227.4,359.6 228.8,360.1C230.2,360.6 231.8,361.0 233.2,361.6C234.6,362.2 237.4,363.9 239.0,364.8C240.6,365.7 243.3,367.3 244.9,368.0C246.5,368.7 249.2,369.5 250.7,369.9C252.2,370.3 255.0,370.2 256.5,370.7C258.0,371.2 260.4,373.7 261.6,373.9C262.8,374.1 264.2,372.6 265.3,372.4C266.4,372.2 268.5,371.9 269.7,372.4C270.9,372.9 272.6,375.2 274.0,376.2C275.4,377.2 278.5,379.2 279.9,380.1C281.3,381.0 283.2,382.2 284.4,383.1C285.6,384.0 287.2,386.1 288.8,386.7C290.4,387.3 294.2,387.5 296.1,387.4C298.0,387.3 301.7,386.1 303.4,386.0C305.1,385.9 307.7,386.4 309.2,386.4C310.7,386.4 313.4,385.8 315.0,386.0C316.6,386.2 319.4,387.6 320.9,388.2C322.4,388.8 324.7,389.3 326.0,390.4C327.3,391.5 329.1,394.7 330.4,396.2C331.7,397.7 334.2,399.8 335.5,401.3C336.8,402.8 338.7,405.9 339.9,407.2C341.1,408.5 342.8,410.4 344.2,411.2C345.6,412.0 348.5,412.8 350.1,413.0C351.7,413.2 354.4,413.1 355.9,412.6C357.4,412.1 359.7,410.6 361.0,409.3C362.3,408.0 364.2,405.0 365.4,402.8C366.6,400.6 368.7,396.0 369.8,392.6C370.9,389.2 372.6,381.5 373.6,377.0C374.6,372.5 376.2,363.4 377.2,359.0C378.2,354.6 379.9,348.5 380.9,344.2C381.9,339.9 383.6,331.4 384.6,326.7C385.6,322.0 387.2,313.7 388.2,309.2C389.2,304.7 390.9,297.0 391.9,293.1C392.9,289.2 394.4,284.3 395.5,280.0C396.6,275.7 398.6,268.0 400.1,260.8C401.6,253.6 405.1,234.3 406.6,226.2C408.1,218.1 410.5,206.3 411.7,200.0C412.9,193.7 414.5,184.5 415.7,179.1C416.9,173.7 419.1,164.6 420.6,159.3C422.1,154.0 424.7,144.8 426.6,139.5C428.5,134.2 432.5,123.7 434.5,119.7C436.5,115.7 439.9,111.7 441.4,109.8C442.9,107.9 444.7,107.0 446.0,105.5C447.3,104.0 449.8,100.8 451.5,98.9C453.2,97.0 456.9,93.0 459.1,91.4C461.3,89.8 465.4,87.7 467.7,87.0C470.0,86.3 474.1,86.7 476.4,86.4C478.7,86.1 482.7,85.2 485.0,84.9C487.3,84.6 491.3,84.9 493.6,84.4C495.9,83.9 500.3,81.7 502.3,81.4C504.3,81.1 507.1,82.1 508.8,82.4C510.5,82.7 513.6,84.2 515.3,84.0C517.0,83.8 520.0,81.5 521.8,80.8C523.6,80.1 527.3,79.1 529.1,79.1C530.9,79.1 533.8,80.6 535.5,80.8C537.2,81.0 540.2,81.0 542.0,80.4C543.8,79.8 547.4,77.2 549.3,76.2C551.2,75.2 554.8,73.5 556.6,73.0C558.4,72.5 561.4,72.3 563.1,72.2C564.8,72.1 568.1,72.5 569.6,72.6C571.1,72.7 573.2,72.9 574.5,73.3C575.8,73.7 577.8,74.8 579.3,75.4C580.8,76.0 584.2,77.1 585.9,77.6C587.6,78.1 590.1,78.6 591.7,79.2C593.3,79.8 596.2,81.4 597.6,82.3C599.0,83.2 600.9,84.8 602.3,85.8C603.7,86.8 606.4,89.1 608.1,90.0C609.8,90.9 613.4,92.0 615.1,92.8C616.8,93.6 619.4,95.2 621.0,95.8C622.6,96.4 624.8,96.6 626.8,97.5C628.8,98.4 634.0,100.8 636.2,102.2C638.4,103.6 641.3,106.3 643.2,108.0C645.1,109.7 648.6,113.3 650.3,115.0C652.0,116.7 654.6,118.9 656.1,120.9C657.6,122.9 660.8,128.6 661.5,129.8" fill="none" stroke="#808000" stroke-width="2" stroke-linejoin="round" stroke-linecap="round"/>
<path d="M97.6,235.3C98.2,233.7 101.2,224.6 102.4,223.6C103.6,222.6 105.2,228.0 106.4,227.5C107.6,227.0 110.3,220.2 111.6,219.6C112.9,219.0 114.7,222.1 115.9,222.8C117.1,223.5 119.1,223.9 120.3,224.8C121.5,225.7 123.5,228.4 124.6,229.9C125.7,231.4 127.8,234.0 128.9,235.8C130.0,237.6 132.0,241.2 133.2,243.4C134.4,245.6 136.4,249.9 137.6,252.6C138.8,255.3 141.2,261.4 141.9,263.4C142.6,265.4 142.4,266.2 143.1,267.4C143.8,268.6 146.3,270.5 147.5,272.6C148.7,274.7 150.8,280.0 152.2,282.8C153.6,285.6 156.4,291.3 157.7,293.7C159.0,296.1 160.7,299.1 161.8,301.0C162.9,302.9 164.6,306.5 165.9,308.2C167.2,309.9 169.9,312.5 171.2,314.1C172.5,315.7 174.2,318.0 175.3,319.9C176.4,321.8 178.4,326.8 179.6,328.7C180.8,330.6 182.8,333.0 184.0,334.5C185.2,336.0 187.1,339.0 188.6,340.3C190.1,341.6 193.3,343.4 195.2,344.4C197.1,345.4 200.9,347.0 202.5,348.0C204.1,349.0 205.7,350.9 206.9,351.7C208.1,352.5 209.9,353.7 211.3,354.3C212.7,354.9 215.5,355.9 217.1,356.4C218.7,356.9 221.4,357.4 223.0,357.8C224.6,358.2 227.3,358.8 228.8,359.3C230.3,359.8 232.5,361.1 233.9,361.2C235.3,361.3 237.5,360.3 239.0,360.1C240.5,359.9 243.3,359.8 244.9,359.7C246.5,359.6 249.2,359.8 250.7,359.7C252.2,359.6 255.1,358.7 256.5,358.7C257.9,358.7 259.5,359.9 260.9,360.0C262.3,360.1 265.1,359.5 266.8,359.3C268.5,359.1 272.2,358.5 274.0,358.5C275.8,358.5 278.4,358.8 280.0,359.0C281.6,359.2 284.1,359.5 285.8,359.7C287.5,359.9 290.8,360.5 292.4,360.4C294.0,360.3 296.0,359.3 297.5,359.0C299.0,358.7 301.6,358.0 303.4,357.8C305.2,357.6 309.0,357.7 310.7,357.8C312.4,357.9 315.0,358.5 316.5,358.5C318.0,358.5 320.7,357.6 322.3,357.5C323.9,357.4 326.6,358.0 328.2,358.0C329.8,358.0 332.4,358.0 334.0,357.8C335.6,357.6 338.3,356.7 339.9,356.4C341.5,356.1 344.2,355.8 345.7,355.8C347.2,355.8 349.9,355.9 351.5,356.1C353.1,356.3 355.8,357.2 357.4,357.2C359.0,357.2 361.6,356.2 363.2,356.1C364.8,356.0 367.4,356.1 369.1,356.1C370.8,356.1 373.9,356.0 375.8,355.9C377.7,355.8 381.0,355.2 383.1,355.2C385.2,355.2 389.6,356.3 391.9,356.2C394.2,356.1 398.4,355.4 400.7,354.7C403.0,354.0 406.9,351.8 409.4,350.8C411.9,349.8 417.1,348.2 419.6,347.2C422.1,346.2 426.1,344.8 428.4,343.5C430.7,342.2 435.1,339.6 437.2,337.7C439.3,335.8 442.8,332.0 444.5,329.6C446.2,327.2 448.2,322.1 449.6,319.4C451.0,316.7 453.2,311.9 454.7,309.2C456.2,306.5 458.9,301.9 460.5,299.0C462.1,296.1 464.7,290.5 466.4,287.3C468.1,284.1 471.8,278.3 473.6,275.0C475.4,271.7 478.1,266.2 480.0,262.5C481.9,258.8 485.6,251.3 487.6,247.5C489.6,243.7 493.1,237.7 495.1,233.8C497.1,229.9 500.5,222.8 502.7,218.6C504.9,214.4 509.1,206.6 511.4,202.4C513.7,198.2 517.7,191.5 520.0,187.3C522.3,183.1 526.6,174.4 528.6,171.1C530.6,167.8 533.2,164.7 535.1,162.4C537.0,160.1 540.9,155.5 542.7,153.8C544.5,152.1 546.6,150.8 548.5,149.5C550.4,148.2 554.4,145.5 556.6,144.3C558.8,143.1 562.8,141.1 564.7,140.3C566.6,139.5 569.5,138.5 571.2,138.2C572.9,137.9 576.5,138.2 577.7,138.2C578.9,138.2 578.4,138.2 580.0,138.5C581.6,138.8 586.9,139.9 589.4,140.1C591.9,140.3 596.2,140.0 598.7,140.1C601.2,140.2 605.8,140.6 608.1,140.8C610.4,141.0 614.3,141.3 616.3,141.5C618.3,141.7 621.6,142.1 623.3,142.5C625.0,142.9 627.5,143.6 629.2,144.8C630.9,146.0 634.3,149.7 636.2,151.4C638.1,153.1 641.3,156.2 643.2,157.9C645.1,159.6 648.6,162.6 650.3,164.2C652.0,165.8 654.6,168.1 656.1,169.6C657.6,171.1 660.8,174.5 661.5,175.2" fill="none" stroke="#000080" stroke-width="2" stroke-linejoin="round" stroke-linecap="round"/>
</svg>
</body></html>
